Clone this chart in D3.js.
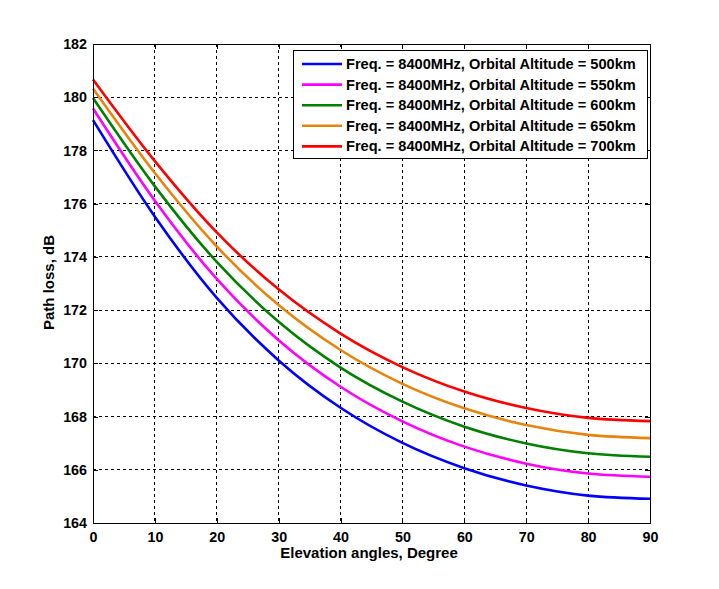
<!DOCTYPE html>
<html><head><meta charset="utf-8">
<script src="https://cdn.jsdelivr.net/npm/d3@7"></script>
<style>body{margin:0;background:#fff}svg{display:block}text{font-family:"Liberation Sans",Arial,sans-serif;font-weight:bold;fill:#000}</style>
</head><body>
<svg id="c" width="719" height="589"></svg>
<script>
// Data
const angles = [0, 10, 20, 30, 40, 50, 60, 70, 80, 90];
const loss500 = [179.14, 175.51, 172.46, 170.11, 168.33, 167.01, 166.06, 165.41, 165.03, 164.91];
const loss550 = [179.58, 176.11, 173.17, 170.87, 169.12, 167.82, 166.87, 166.23, 165.86, 165.74];
const loss600 = [179.97, 176.65, 173.81, 171.56, 169.84, 168.56, 167.62, 166.99, 166.62, 166.49];
const loss650 = [180.33, 177.15, 174.39, 172.19, 170.50, 169.23, 168.31, 167.68, 167.31, 167.19];
const loss700 = [180.67, 177.60, 174.92, 172.78, 171.12, 169.86, 168.94, 168.32, 167.95, 167.83];
const seriesNames = [
  "Freq. = 8400MHz, Orbital Altitude = 500km",
  "Freq. = 8400MHz, Orbital Altitude = 550km",
  "Freq. = 8400MHz, Orbital Altitude = 600km",
  "Freq. = 8400MHz, Orbital Altitude = 650km",
  "Freq. = 8400MHz, Orbital Altitude = 700km"
];
const seriesColors = ["#0000ff", "#ff00ff", "#008000", "#e8830c", "#ff0000"];
const xTicks = [0, 10, 20, 30, 40, 50, 60, 70, 80, 90];
const yTicks = [164, 166, 168, 170, 172, 174, 176, 178, 180, 182];

const seriesValues = [loss500, loss550, loss600, loss650, loss700];

const L = 93, R = 650, T = 44, B = 523;
const svg = d3.select("#c");
const x = d3.scaleLinear().domain([0, 90]).range([L, R]);
const y = d3.scaleLinear().domain([164, 182]).range([B, T]);

// grid
const g = svg.append("g");
g.selectAll(".vg").data(xTicks.slice(1, -1)).enter().append("line")
  .attr("x1", d => x(d)).attr("x2", d => x(d)).attr("y1", T).attr("y2", B)
  .attr("stroke", "#000").attr("stroke-width", 1).attr("stroke-dasharray", "3,3").attr("shape-rendering", "crispEdges");
g.selectAll(".hg").data(yTicks.slice(1, -1)).enter().append("line")
  .attr("y1", d => y(d)).attr("y2", d => y(d)).attr("x1", L).attr("x2", R)
  .attr("stroke", "#000").attr("stroke-width", 1).attr("stroke-dasharray", "3,3").attr("shape-rendering", "crispEdges");

// axes
const xAxis = svg.append("g").attr("transform", `translate(0,${B})`)
  .call(d3.axisBottom(x).tickValues(xTicks).tickSize(-5).tickPadding(9).tickFormat(d3.format("d")));
const yAxis = svg.append("g").attr("transform", `translate(${L},0)`)
  .call(d3.axisLeft(y).tickValues(yTicks).tickSize(-5).tickPadding(6).tickFormat(d3.format("d")));
const xTop = svg.append("g").attr("transform", `translate(0,${T})`)
  .call(d3.axisTop(x).tickValues(xTicks).tickSize(-5).tickFormat(""));
const yRight = svg.append("g").attr("transform", `translate(${R},0)`)
  .call(d3.axisRight(y).tickValues(yTicks).tickSize(-5).tickFormat(""));
[xAxis, yAxis, xTop, yRight].forEach(a => {
  a.select(".domain").remove();
  a.selectAll("line").attr("stroke", "#000").attr("shape-rendering", "crispEdges");
  a.selectAll("text").attr("font-size", 14.3).attr("font-family", "Liberation Sans, Arial, sans-serif").attr("font-weight", "bold").attr("fill", "#000");
});

// lines
const line = d3.line().x((d, i) => x(angles[i])).y(d => y(d)).curve(d3.curveMonotoneX);
seriesValues.forEach((vals, k) => {
  svg.append("path").datum(vals).attr("d", line)
    .attr("fill", "none").attr("stroke", seriesColors[k]).attr("stroke-width", 2.6)
    .attr("stroke-linejoin", "round");
});

// frame
svg.append("rect").attr("x", L + 0.5).attr("y", T + 0.5).attr("width", R - L).attr("height", B - T)
  .attr("fill", "none").attr("stroke", "#000").attr("stroke-width", 1);

// legend
const lg = svg.append("g");
lg.append("rect").attr("x", 293.5).attr("y", 50.5).attr("width", 354).attr("height", 108)
  .attr("fill", "#fff").attr("stroke", "#000").attr("stroke-width", 1);
seriesNames.forEach((name, k) => {
  const cy = 64 + k * 20.6;
  lg.append("line").attr("x1", 302).attr("x2", 342).attr("y1", cy).attr("y2", cy)
    .attr("stroke", seriesColors[k]).attr("stroke-width", 2.6);
  lg.append("text").attr("x", 346).attr("y", cy + 5).attr("font-size", 14.6).text(name);
});

// axis labels
svg.append("text").attr("x", 369).attr("y", 558).attr("text-anchor", "middle")
  .attr("font-size", 15).text("Elevation angles, Degree");
svg.append("text").attr("transform", `translate(54,${(T + B) / 2 - 1}) rotate(-90)`).attr("text-anchor", "middle")
  .attr("font-size", 15).text("Path loss, dB");
</script>
</body></html>
